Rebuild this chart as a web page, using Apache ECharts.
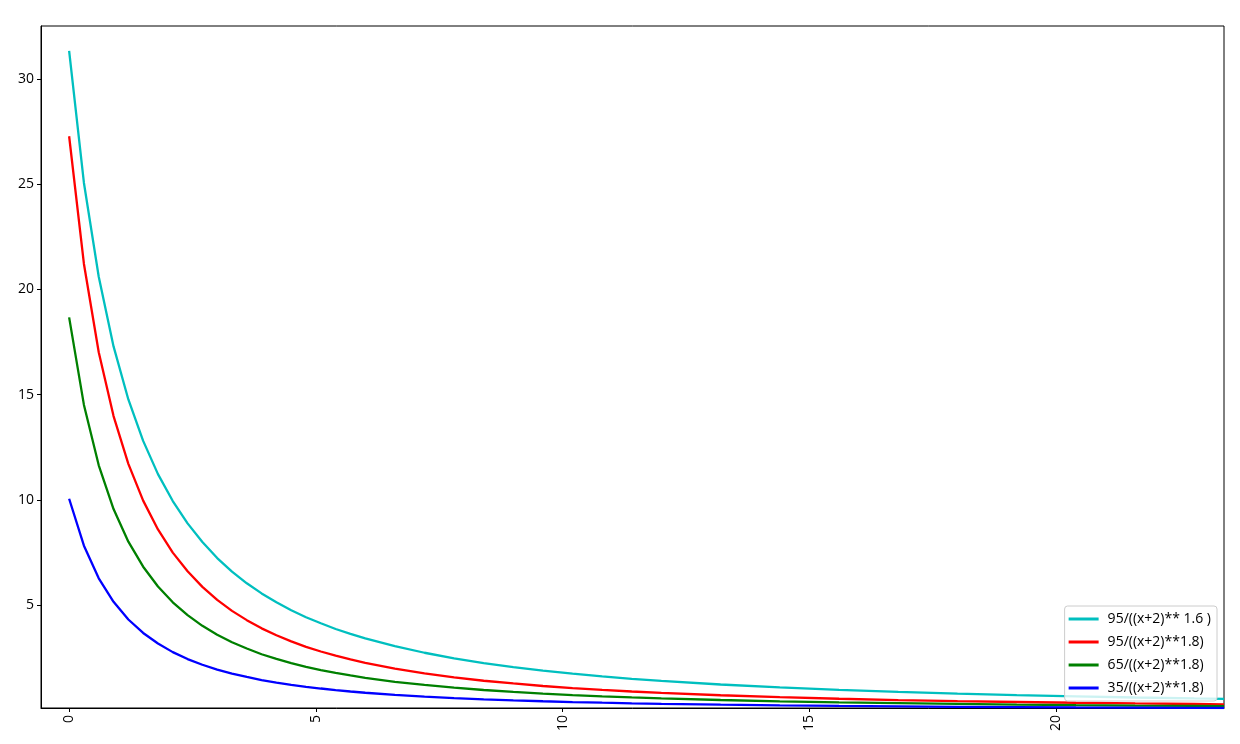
<!DOCTYPE html>
<html>
<head>
<meta charset="utf-8">
<script src="https://cdn.jsdelivr.net/npm/echarts@6/dist/echarts.min.js"></script>
<style>html,body{margin:0;padding:0;background:#fff}#c{width:1240px;height:744px}</style>
</head>
<body>
<div id="c"></div>
<script>
const xs = [0,0.3,0.6,0.9,1.2,1.5,1.8,2.1,2.4,2.7,3.0,3.3,3.6,3.9,4.2,4.5,4.8,5.1,5.4,5.7,6.0,
  6.6,7.2,7.8,8.4,9.0,9.6,10.2,10.8,11.4,12.0,13.2,14.4,15.6,16.8,18.0,19.2,20.4,21.6,22.8,23.4];
const cyan95p16 = [31.34,25.06,20.60,17.29,14.77,12.80,11.22,9.94,8.88,7.99,7.23,6.59,6.03,5.55,5.13,4.75,4.42,4.13,3.86,3.63,3.41,
  3.04,2.73,2.46,2.24,2.05,1.88,1.74,1.61,1.49,1.39,1.22,1.08,0.966,0.869,0.787,0.717,0.657,0.604,0.558,0.537];
const red95p18 = [27.28,21.21,17.01,13.98,11.71,9.96,8.59,7.49,6.60,5.86,5.24,4.72,4.28,3.89,3.56,3.27,3.01,2.79,2.59,2.41,2.25,
  1.98,1.75,1.56,1.40,1.27,1.15,1.05,0.965,0.889,0.822,0.709,0.618,0.544,0.483,0.432,0.389,0.353,0.321,0.294,0.281];
const green65p18 = [18.67,14.51,11.64,9.56,8.01,6.82,5.88,5.13,4.52,4.01,3.59,3.23,2.93,2.66,2.44,2.24,2.06,1.91,1.77,1.65,1.54,
  1.35,1.20,1.07,0.960,0.868,0.789,0.720,0.661,0.608,0.562,0.485,0.423,0.372,0.331,0.296,0.266,0.241,0.220,0.201,0.192];
const blue35p18 = [10.05,7.82,6.27,5.15,4.31,3.67,3.17,2.76,2.43,2.16,1.93,1.74,1.58,1.43,1.31,1.20,1.11,1.03,0.954,0.888,0.829,
  0.728,0.645,0.575,0.517,0.467,0.425,0.388,0.356,0.328,0.303,0.261,0.228,0.201,0.178,0.159,0.143,0.130,0.118,0.108,0.104];
const seriesNames = ['95/((x+2)** 1.6 )','95/((x+2)**1.8)','65/((x+2)**1.8)','35/((x+2)**1.8)'];
const xTicks = [0,5,10,15,20];
const yTicks = [5,10,15,20,25,30];

const colors = ['#00BFBF','#FF0000','#008000','#0000FF'];
const allVals = [cyan95p16, red95p18, green65p18, blue35p18];
const font = '"Open Sans", "DejaVu Sans", sans-serif';

const chart = echarts.init(document.getElementById('c'), null, {renderer:'canvas'});
chart.setOption({
  animation: false,
  backgroundColor: '#fff',
  grid: {left: 41, top: 26, right: 16, bottom: 36, show: true, borderColor: '#000', borderWidth: 1, containLabel: false},
  xAxis: {
    type: 'value', min: -0.57, max: 23.4,
    axisLine: {show: true, onZero: false, lineStyle: {color: '#000', width: 1}},
    axisTick: {show: true, inside: false, length: 4, customValues: xTicks, lineStyle: {color: '#000'}},
    axisLabel: {show: true, customValues: xTicks, rotate: 90, color: '#000', fontSize: 14, fontFamily: font, margin: 7},
    splitLine: {show: false}
  },
  yAxis: {
    type: 'value', min: 0.104, max: 32.52,
    axisLine: {show: true, onZero: false, lineStyle: {color: '#000', width: 1}},
    axisTick: {show: true, inside: false, length: 4, customValues: yTicks, lineStyle: {color: '#000'}},
    axisLabel: {show: true, customValues: yTicks, color: '#000', fontSize: 14, fontFamily: font, margin: 7},
    splitLine: {show: false}
  },
  legend: {
    orient: 'vertical', right: 23, bottom: 43,
    icon: 'rect', itemWidth: 30, itemHeight: 3, itemGap: 7,
    backgroundColor: 'rgba(255,255,255,0.8)', borderColor: '#cccccc', borderWidth: 1, borderRadius: 3,
    padding: [5, 6, 5, 4],
    textStyle: {color: '#000', fontSize: 14, fontFamily: font, lineHeight: 16, padding: [0, 0, 0, 4]},
    data: seriesNames
  },
  series: allVals.map((vals, i) => ({
    name: seriesNames[i], type: 'line', showSymbol: false, symbol: 'none',
    color: colors[i], lineStyle: {color: colors[i], width: 2.3},
    data: xs.map((x, j) => [x, vals[j]])
  }))
});
</script>
</body>
</html>
